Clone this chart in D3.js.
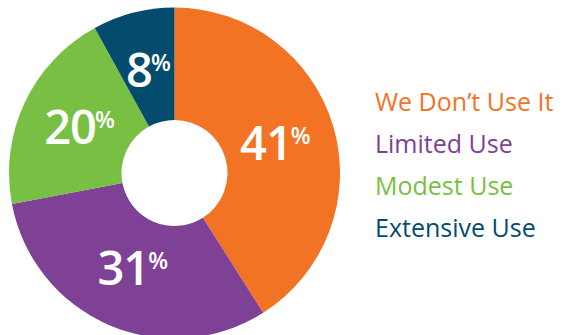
<!DOCTYPE html>
<html>
<head>
<meta charset="utf-8">
<script src="https://cdn.jsdelivr.net/npm/d3@7"></script>
<style>
  body { margin: 0; background: #fff; }
  svg { display: block; }
</style>
</head>
<body>
<div id="chart"></div>
<script>
// categories and shares (percent)
var categories = ["We Don\u2019t Use It", "Limited Use", "Modest Use", "Extensive Use"];
var values = [41, 31, 20, 8];
var colors = ["#F37324", "#7F4196", "#79BF44", "#034C6D"];

var width = 563, height = 335;
var cx = 174.5, cy = 173;
var outerR = 165.5, innerR = 53, labelR = 105;

var svg = d3.select("#chart").append("svg")
    .attr("width", width)
    .attr("height", height);

var g = svg.append("g")
    .attr("transform", "translate(" + cx + "," + cy + ")");

var pie = d3.pie().sort(null).value(function(d) { return d; });
var arcs = pie(values);

var arc = d3.arc().innerRadius(innerR).outerRadius(outerR);
var labelArc = d3.arc().innerRadius(labelR).outerRadius(labelR);

g.selectAll("path.slice")
    .data(arcs)
    .enter().append("path")
      .attr("class", "slice")
      .attr("d", arc)
      .style("fill", function(d, i) { return colors[i]; });

// value labels
var labels = g.selectAll("text.val")
    .data(arcs)
    .enter().append("text")
      .attr("class", "val")
      .attr("transform", function(d) {
        var c = labelArc.centroid(d);
        return "translate(" + c[0] + "," + (c[1] + 16) + ")";
      })
      .style("text-anchor", "middle")
      .style("font-family", "'Open Sans', sans-serif")
      .style("font-weight", 600)
      .style("fill", "#ffffff");

labels.append("tspan")
    .style("font-size", "47px")
    .style("letter-spacing", "-1px")
    .text(function(d) { return d.data; });
labels.append("tspan")
    .style("font-size", "23px")
    .attr("dx", -1)
    .attr("dy", -16)
    .text("%");

// legend
svg.selectAll("text.legend")
    .data(categories)
    .enter().append("text")
      .attr("class", "legend")
      .attr("x", 375)
      .attr("y", function(d, i) { return 111 + i * 42; })
      .style("font-family", "'Open Sans', sans-serif")
      .style("font-size", "25px")
      .style("fill", function(d, i) { return colors[i]; })
      .text(function(d) { return d; });
</script>
</body>
</html>
